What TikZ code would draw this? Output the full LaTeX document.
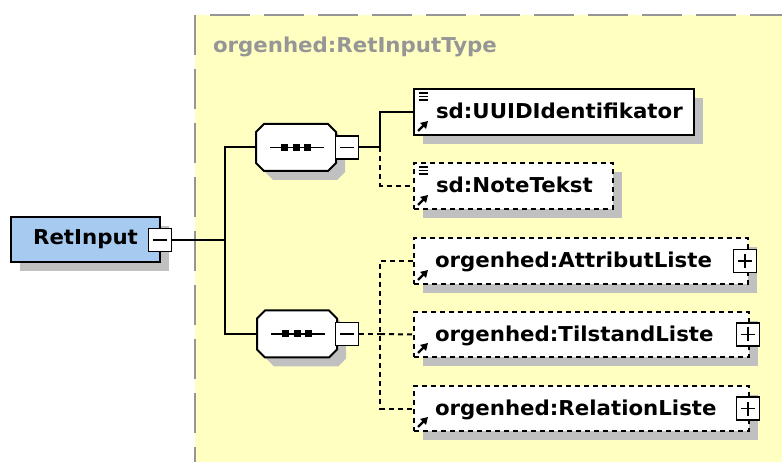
\documentclass[tikz,border=0pt]{standalone}
\usepackage{fontspec}
\setmainfont{DejaVu Sans}[FakeStretch=1.04]
\usetikzlibrary{shadows,arrows.meta}

\definecolor{typebg}{RGB}{255,255,194}
\definecolor{typeline}{RGB}{150,150,150}
\definecolor{rootblue}{RGB}{166,202,240}
\definecolor{shadowgray}{RGB}{192,192,192}

% small marks drawn inside the boxes
\newcommand{\refarrow}{\draw[solid,line width=2.4pt,-{Triangle[length=7pt,width=8pt]}]
  ([shift={(4pt,4pt)}]path picture bounding box.south west) -- ++(10pt,10pt);}
\newcommand{\textlines}{\foreach \dy in {4,7.5,11}
  \draw[solid,line width=1.4pt] ([shift={(4.5pt,-\dy pt)}]path picture bounding box.north west) -- ++(9pt,0);}
% octagon of a sequence, drawn over its (invisible) node
\newcommand{\seqshape}[1]{%
  \draw[fill=white,shade box] ([xshift=8pt]#1.north west) -- ([xshift=-8pt]#1.north east)
    -- ([yshift=-8pt]#1.north east) -- ([yshift=8pt]#1.south east)
    -- ([xshift=-8pt]#1.south east) -- ([xshift=8pt]#1.south west)
    -- ([yshift=8pt]#1.south west) -- ([yshift=-8pt]#1.north west) -- cycle;
  \draw[line width=1.6pt] ([xshift=-26pt]#1.center) -- ([xshift=28pt]#1.center);
  \fill ([shift={(-15pt,-3.5pt)}]#1.center) rectangle ++(7pt,7pt);
  \fill ([shift={(-3.5pt,-3.5pt)}]#1.center) rectangle ++(7pt,7pt);
  \fill ([shift={(8pt,-3.5pt)}]#1.center) rectangle ++(7pt,7pt);}

\begin{document}
\begin{tikzpicture}[x=1pt,y=-1pt,line width=2pt,
  font=\fontsize{20.5}{24}\selectfont\bfseries,
  shade box/.style={general shadow={fill=shadowgray,shadow xshift=9pt,shadow yshift=-9pt}},
  dashed line/.style={dash pattern=on 5pt off 4pt},
  root node/.style={rectangle,draw,fill=rootblue,shade box,minimum width=149pt,minimum height=45pt,inner sep=0pt},
  seq node/.style={rectangle,minimum width=78pt,minimum height=45pt,inner sep=0pt},
  elem node/.style={rectangle,draw,fill=white,shade box,minimum height=46pt,inner sep=0pt,anchor=west},
  opt node/.style={elem node,dashed line},
  elem text/.style={anchor=base west,inner sep=0pt},
  toggle/.style={rectangle,draw,solid,fill=white,line width=1.5pt,minimum size=23pt,inner sep=0pt},
  minus box/.style={toggle,path picture={\draw[line width=1.5pt] ([xshift=-7pt]path picture bounding box.center) -- ([xshift=7pt]path picture bounding box.center);}},
  plus box/.style={toggle,path picture={\draw[line width=1.5pt] ([xshift=-7pt]path picture bounding box.center) -- ([xshift=7pt]path picture bounding box.center)
    ([yshift=-7pt]path picture bounding box.center) -- ([yshift=7pt]path picture bounding box.center);}}]

  \useasboundingbox (0,0) rectangle (782,462);

  % the type area
  \fill[typebg] (195,15) rectangle (782,462);
  \draw[typeline,dash pattern=on 40pt off 14pt] (195,15) -- (195,462);
  \draw[typeline,dash pattern=on 40pt off 14pt] (210,15) -- (782,15);
  \node[elem text,text=typeline] (title) at (212,53) {orgenhed:RetInputType};

  % root element
  \node[root node] (root) at (85.5,239.5) {RetInput};
  \node[minus box] (roottog) at (160,240) {};

  % sequences
  \node[seq node] (seq1) at (296,147.5) {};
  \seqshape{seq1}
  \node[minus box] (seq1tog) at (347,147.5) {};
  \node[seq node] (seq2) at (297,334) {};
  \seqshape{seq2}
  \node[minus box] (seq2tog) at (347,334) {};

  % child elements
  \node[elem node,minimum width=280pt,path picture={\refarrow\textlines}] (uuid) at (413,112) {};
  \node[elem text] at ([xshift=22pt,yshift=-7pt]uuid.west) {sd:UUIDIdentifikator};

  \node[opt node,minimum width=199pt,path picture={\refarrow\textlines}] (note) at (413,186) {};
  \node[elem text] at ([xshift=22pt,yshift=-7pt]note.west) {sd:NoteTekst};

  \node[opt node,minimum width=334pt,path picture={\refarrow}] (attr) at (413,261) {};
  \node[elem text] at ([xshift=21pt,yshift=-7pt]attr.west) {orgenhed:AttributListe};
  \node[plus box] (attrtog) at (745,261) {};

  \node[opt node,minimum width=335pt,minimum height=45pt,path picture={\refarrow}] (tilst) at (413,334.5) {};
  \node[elem text] at ([xshift=21pt,yshift=-7pt]tilst.west) {orgenhed:TilstandListe};
  \node[plus box] (tilsttog) at (748,334.5) {};

  \node[opt node,minimum width=335pt,minimum height=45pt,path picture={\refarrow}] (rel) at (413,408.5) {};
  \node[elem text] at ([xshift=21pt,yshift=-7pt]rel.west) {orgenhed:RelationListe};
  \node[plus box] (reltog) at (748,408.5) {};

  % connectors
  \coordinate (j0) at (225,240);
  \coordinate (j1) at (380,147.5);
  \coordinate (j2) at (380,334);

  \draw (roottog) -- (j0);
  \draw (seq1.west) -| (j0) |- (seq2.west);
  \draw (seq1tog) -- (j1) |- (uuid.west);
  \draw[dashed line] (j1) |- (note.west);
  \draw[dashed line] (seq2tog) -- (j2);
  \draw[dashed line] (attr.west) -| (j2) |- (rel.west);
  \draw[dashed line] (j2) -- (tilst.west);
\end{tikzpicture}
\end{document}
